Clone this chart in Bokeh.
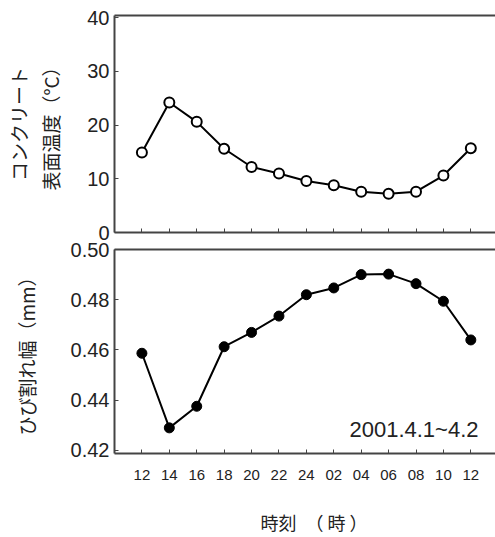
from bokeh.plotting import figure
from bokeh.models import LinearAxis, FixedTicker, Label, Range1d, NumeralTickFormatter, ColumnDataSource
from bokeh.layouts import column
from bokeh.embed import file_html
from bokeh.resources import INLINE

hours = ["12", "14", "16", "18", "20", "22", "24", "02", "04", "06", "08", "10", "12"]
x_idx = list(range(len(hours)))
temp = [14.9, 24.2, 20.6, 15.6, 12.2, 11.0, 9.6, 8.8, 7.6, 7.2, 7.6, 10.6, 15.7]
crack = [0.4587, 0.429, 0.4376, 0.4613, 0.467, 0.4735, 0.482, 0.4847, 0.490, 0.4902, 0.4864, 0.4794, 0.464]
temp_ticks = [0, 10, 20, 30, 40]
crack_ticks = [0.42, 0.44, 0.46, 0.48, 0.50]
period_text = "2001.4.1~4.2"

AX = "#444444"
TXT = "#222222"
NUMFONT = "Liberation Sans"
JPFONT = "Noto Sans CJK JP"

src = ColumnDataSource(dict(x=x_idx, temp=temp, crack=crack))
overrides = {i: h for i, h in enumerate(hours)}
blank = {i: "" for i in x_idx}


def base_axis(ax):
    ax.axis_line_color = AX
    ax.axis_line_width = 2
    ax.major_tick_line_color = AX
    ax.major_tick_line_width = 1
    ax.major_tick_in = 4
    ax.major_tick_out = 0
    ax.minor_tick_line_color = None
    ax.major_label_text_color = TXT
    ax.major_label_text_font = NUMFONT


def style(p):
    p.outline_line_color = None
    p.xgrid.visible = False
    p.ygrid.visible = False
    p.background_fill_color = "white"
    p.border_fill_color = "white"
    base_axis(p.below[0])
    base_axis(p.left[0])
    top = LinearAxis(ticker=FixedTicker(ticks=[]), major_label_text_font_size="1px",
                     major_tick_in=0, major_tick_out=0, minor_tick_in=0, minor_tick_out=0,
                     major_label_standoff=0, axis_line_color=AX, axis_line_width=2)
    p.add_layout(top, "above")
    return p.below[0], p.left[0]


p1 = figure(width=495, height=240, x_range=Range1d(-1, 12.9), y_range=Range1d(0, 40.4),
            output_backend="svg", toolbar_location=None,
            min_border_left=114, min_border_right=0, min_border_top=15, min_border_bottom=8)
xa1, ya1 = style(p1)
xa1.ticker = FixedTicker(ticks=x_idx)
xa1.major_label_overrides = blank
xa1.major_label_text_font_size = "1px"
xa1.major_label_standoff = 0
ya1.ticker = FixedTicker(ticks=temp_ticks)
ya1.major_label_text_font_size = "20px"
ya1.major_label_standoff = 5
ya1.axis_label = "コンクリート\n表面温度（°C）"
ya1.axis_label_text_font = JPFONT
ya1.axis_label_text_font_size = "19px"
ya1.axis_label_text_font_style = "normal"
ya1.axis_label_text_color = TXT
ya1.axis_label_standoff = 20
p1.line("x", "temp", source=src, line_color="black", line_width=2)
p1.scatter("x", "temp", source=src, size=10, fill_color="white", line_color="black", line_width=2)

p2 = figure(width=495, height=297, x_range=Range1d(-1, 12.9), y_range=Range1d(0.4188, 0.50),
            output_backend="svg", toolbar_location=None,
            min_border_left=114, min_border_right=0, min_border_top=9, min_border_bottom=84)
xa2, ya2 = style(p2)
xa2.ticker = FixedTicker(ticks=x_idx)
xa2.major_label_overrides = overrides
xa2.major_label_text_font_size = "15px"
xa2.major_label_standoff = 16
xa2.axis_label = "\u3000時刻\u3000（ 時 ）"
xa2.axis_label_text_font = JPFONT
xa2.axis_label_text_font_size = "18px"
xa2.axis_label_text_font_style = "normal"
xa2.axis_label_text_color = TXT
xa2.axis_label_standoff = 26
ya2.ticker = FixedTicker(ticks=crack_ticks)
ya2.formatter = NumeralTickFormatter(format="0.00")
ya2.major_label_text_font_size = "20px"
ya2.major_label_standoff = 5
ya2.axis_label = "ひび割れ幅（mm）"
ya2.axis_label_text_font = JPFONT
ya2.axis_label_text_font_size = "19px"
ya2.axis_label_text_font_style = "normal"
ya2.axis_label_text_color = TXT
ya2.axis_label_standoff = 28
p2.line("x", "crack", source=src, line_color="black", line_width=2)
p2.scatter("x", "crack", source=src, size=10, fill_color="black", line_color="black", line_width=1)
p2.add_layout(Label(x=12.28, y=0.4285, text=period_text, text_align="right", text_baseline="middle",
                    text_font=NUMFONT, text_font_size="22px", text_color=TXT))

layout = column(p1, p2, spacing=0)
open("out.html", "w").write(file_html(layout, INLINE))
